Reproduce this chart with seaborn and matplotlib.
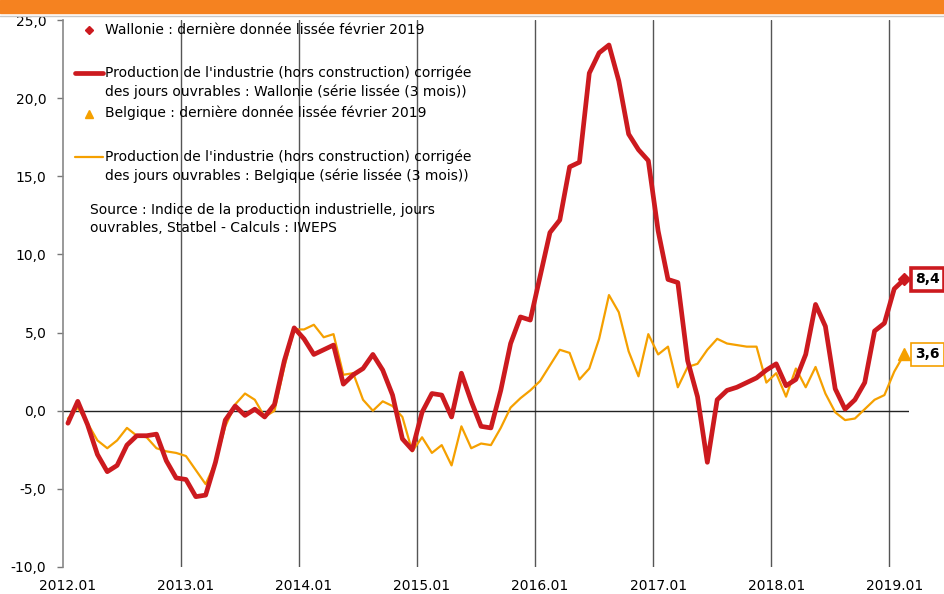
import numpy as np
import pandas as pd
import matplotlib
matplotlib.use("Agg")
import matplotlib.pyplot as plt
from matplotlib.lines import Line2D
from matplotlib.patches import Rectangle
import seaborn as sns

# ---------------- data ----------------
months = [f"{y}.{m:02d}" for y in range(2012, 2020) for m in range(1, 13)][:86]  # 2012.01 .. 2019.02

wallonie = [-0.8, 0.6, -0.9, -2.8, -3.9, -3.5, -2.2, -1.6, -1.6, -1.5, -3.2, -4.3,
            -4.4, -5.5, -5.4, -3.3, -0.6, 0.3, -0.3, 0.1, -0.4, 0.4, 3.2, 5.3,
            4.6, 3.6, 3.9, 4.2, 1.7, 2.3, 2.7, 3.6, 2.6, 1.0, -1.8, -2.5,
            -0.1, 1.1, 1.0, -0.4, 2.4, 0.6, -1.0, -1.1, 1.3, 4.3, 6.0, 5.8,
            8.6, 11.4, 12.2, 15.6, 15.9, 21.6, 22.9, 23.4, 21.1, 17.7, 16.7, 16.0,
            11.5, 8.4, 8.2, 3.2, 0.9, -3.3, 0.7, 1.3, 1.5, 1.8, 2.1, 2.6,
            3.0, 1.6, 2.0, 3.6, 6.8, 5.4, 1.4, 0.1, 0.7, 1.8, 5.1, 5.6,
            7.8, 8.4]

belgique = [-0.5, 0.2, -0.8, -1.9, -2.4, -1.9, -1.1, -1.6, -1.7, -2.4, -2.6, -2.7,
            -2.9, -3.8, -4.7, -3.3, -1.0, 0.4, 1.1, 0.7, -0.4, 0.0, 2.8, 5.2,
            5.2, 5.5, 4.7, 4.9, 2.3, 2.4, 0.7, 0.0, 0.6, 0.3, -0.4, -2.6,
            -1.7, -2.7, -2.2, -3.5, -1.0, -2.4, -2.1, -2.2, -1.1, 0.2, 0.8, 1.3,
            1.9, 2.9, 3.9, 3.7, 2.0, 2.7, 4.6, 7.4, 6.3, 3.8, 2.2, 4.9,
            3.6, 4.1, 1.5, 2.8, 3.0, 3.9, 4.6, 4.3, 4.2, 4.1, 4.1, 1.8,
            2.4, 0.9, 2.7, 1.5, 2.8, 1.1, -0.1, -0.6, -0.5, 0.1, 0.7, 1.0,
            2.5, 3.6]

year_labels = ["2012.01", "2013.01", "2014.01", "2015.01", "2016.01", "2017.01", "2018.01", "2019.01"]
y_ticks = [-10, -5, 0, 5, 10, 15, 20, 25]

label_wal = "Production de l'industrie (hors construction) corrigée\ndes jours ouvrables : Wallonie (série lissée (3 mois))"
label_bel = "Production de l'industrie (hors construction) corrigée\ndes jours ouvrables : Belgique (série lissée (3 mois))"
label_wal_last = "Wallonie : dernière donnée lissée février 2019"
label_bel_last = "Belgique : dernière donnée lissée février 2019"
source_text = "Source : Indice de la production industrielle, jours\nouvrables, Statbel - Calculs : IWEPS"

RED = "#CC1A1F"
ORANGE = "#F5A000"

df = pd.DataFrame({"mois": months, "pos": np.arange(len(months)) + 0.5,
                   "wallonie": wallonie, "belgique": belgique})

# ---------------- figure ----------------
sns.set_theme(style="white")
plt.rcParams["font.family"] = ["DejaVu Sans"]
for k in ["text.color", "axes.labelcolor", "xtick.color", "ytick.color"]:
    plt.rcParams[k] = "black"

W, H = 944, 594
fig = plt.figure(figsize=(W / 100, H / 100), dpi=100)
ax = fig.add_axes([63 / W, 1 - 567 / H, (909 - 63) / W, (567 - 20) / H])

# top orange band + thin grey line
fig.patches.append(Rectangle((0, 1 - 13 / H), 1, 13 / H, transform=fig.transFigure,
                             color="#F58220", zorder=0))
fig.add_artist(Line2D([0, 1], [1 - 16 / H, 1 - 16 / H], transform=fig.transFigure,
                      color="#C8C8C8", lw=1))

# vertical year separators and zero line
year_pos = [12 * k for k in range(len(year_labels))]
for xp in year_pos[1:]:
    ax.axvline(xp, color="#555555", lw=1.0, zorder=1)
ax.axhline(0, color="#222222", lw=1.0, zorder=1)

sns.lineplot(data=df, x="pos", y="belgique", color=ORANGE, lw=1.6, ax=ax, zorder=3)
sns.lineplot(data=df, x="pos", y="wallonie", color=RED, lw=3.4, ax=ax, zorder=4)

last = df.iloc[-1]
ax.plot(last["pos"], last["wallonie"], marker="D", ms=6, color=RED, zorder=5, clip_on=False)
ax.plot(last["pos"], last["belgique"], marker="^", ms=8, color=ORANGE, zorder=5, clip_on=False)

ax.annotate(f"{last['wallonie']:.1f}".replace(".", ","), xy=(last["pos"], last["wallonie"]),
            xytext=(8, 0), textcoords="offset points", va="center", ha="left",
            fontsize=10, fontweight="bold", color="black", annotation_clip=False,
            bbox=dict(boxstyle="square,pad=0.3", fc="white", ec=RED, lw=2.6))
ax.annotate(f"{last['belgique']:.1f}".replace(".", ","), xy=(last["pos"], last["belgique"]),
            xytext=(8, 0), textcoords="offset points", va="center", ha="left",
            fontsize=10, fontweight="bold", color="black", annotation_clip=False,
            bbox=dict(boxstyle="square,pad=0.3", fc="white", ec=ORANGE, lw=1.2))

# axes
ax.set_xlim(0, len(months))
ax.set_ylim(-10, 25)
ax.set_yticks(y_ticks)
ax.set_yticklabels([f"{v:.1f}".replace(".", ",") for v in y_ticks], fontsize=10)
ax.set_xticks(year_pos)
ax.set_xticklabels([])
ax.set_xticks([p + 0.5 for p in year_pos], minor=True)
ax.set_xticklabels(year_labels, minor=True, fontsize=10)
ax.tick_params(axis="x", which="major", length=6, width=1, color="#555555", direction="out")
ax.tick_params(axis="x", which="minor", length=0, pad=9)
ax.tick_params(axis="y", length=4, width=1, color="#777777", direction="out", pad=8, left=True)
ax.set_xlabel("")
ax.set_ylabel("")
for s in ["top", "right", "bottom"]:
    ax.spines[s].set_visible(False)
ax.spines["left"].set_color("#888888")
ax.spines["left"].set_linewidth(1.2)
ax.grid(False)


# ---------------- manual legend ----------------
def fy(y):
    return 1 - y / H


def fx(x):
    return x / W


fig.add_artist(Line2D([fx(89)], [fy(30)], marker="D", ms=4.5, color=RED, lw=0,
                      transform=fig.transFigure))
fig.text(fx(105), fy(30), label_wal_last, fontsize=10, va="center", ha="left")

fig.add_artist(Line2D([fx(75), fx(103)], [fy(73), fy(73)], color=RED, lw=3.4,
                      transform=fig.transFigure))
fig.text(fx(105), fy(82), label_wal, fontsize=10, va="center", ha="left", linespacing=1.35)

fig.add_artist(Line2D([fx(89)], [fy(114)], marker="^", ms=6, color=ORANGE, lw=0,
                      transform=fig.transFigure))
fig.text(fx(105), fy(113), label_bel_last, fontsize=10, va="center", ha="left")

fig.add_artist(Line2D([fx(75), fx(103)], [fy(157), fy(157)], color=ORANGE, lw=1.6,
                      transform=fig.transFigure))
fig.text(fx(105), fy(166), label_bel, fontsize=10, va="center", ha="left", linespacing=1.35)

fig.text(fx(90), fy(219), source_text, fontsize=10, va="center", ha="left", linespacing=1.35)

fig.savefig("out.png", dpi=100)
